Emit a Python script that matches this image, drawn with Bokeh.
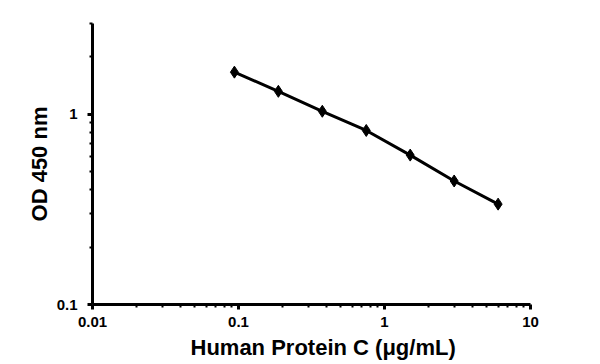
from bokeh.plotting import figure
from bokeh.models import FixedTicker, CustomJSTickFormatter, Title
from bokeh.embed import file_html
from bokeh.resources import INLINE

# Data
concentration = [0.09375, 0.1875, 0.375, 0.75, 1.5, 3.0, 6.0]
od450 = [1.665, 1.32, 1.037, 0.822, 0.61, 0.446, 0.337]

x_ticks = [0.01, 0.1, 1, 10]
y_ticks = [0.1, 1]
x_minor = [m * d for d in [0.01, 0.1, 1] for m in range(2, 10)]
y_minor = [m * 0.1 for m in range(2, 10)] + [2, 3]

FONT = "Liberation Sans"

p = figure(width=600, height=364, x_axis_type="log", y_axis_type="log",
           x_range=(0.01, 10), y_range=(0.1, 3),
           output_backend="svg", toolbar_location=None,
           min_border_left=92, min_border_right=70,
           min_border_top=23, min_border_bottom=60)
p.outline_line_color = None
p.xgrid.visible = False
p.ygrid.visible = False
p.background_fill_color = "white"
p.border_fill_color = "white"

p.line(concentration, od450, line_color="black", line_width=3)
p.scatter(concentration, od450, marker="diamond", size=12,
          fill_color="black", line_color="black")

fmt = CustomJSTickFormatter(code="return tick.toString();")

for ax, ticks, minor in ((p.xaxis[0], x_ticks, x_minor), (p.yaxis[0], y_ticks, y_minor)):
    ax.ticker = FixedTicker(ticks=ticks, minor_ticks=minor)
    ax.formatter = fmt
    ax.axis_line_width = 3
    ax.axis_line_color = "black"
    ax.major_tick_line_width = 3
    ax.major_tick_line_color = "black"
    ax.major_tick_in = 0
    ax.major_tick_out = 5
    ax.minor_tick_line_width = 2
    ax.minor_tick_line_color = "black"
    ax.minor_tick_in = 0
    ax.minor_tick_out = 3
    ax.major_label_text_font = FONT
    ax.major_label_text_font_style = "bold"
    ax.major_label_text_font_size = "15px"
    ax.major_label_text_color = "black"
    ax.axis_label_text_font = FONT
    ax.axis_label_text_font_style = "bold"
    ax.axis_label_text_font_size = "22px"
    ax.axis_label_text_color = "black"

p.yaxis.axis_label = "OD 450 nm"
p.xaxis.major_label_standoff = 7
p.yaxis.major_label_standoff = 10
p.yaxis.axis_label_standoff = 2

xtitle = Title(text="Human Protein C (μg/mL)", align="left", offset=98,
               text_font=FONT, text_font_style="bold", text_font_size="22px",
               text_color="black", standoff=6)
p.add_layout(xtitle, "below")

open("out.html", "w").write(file_html(p, INLINE))
